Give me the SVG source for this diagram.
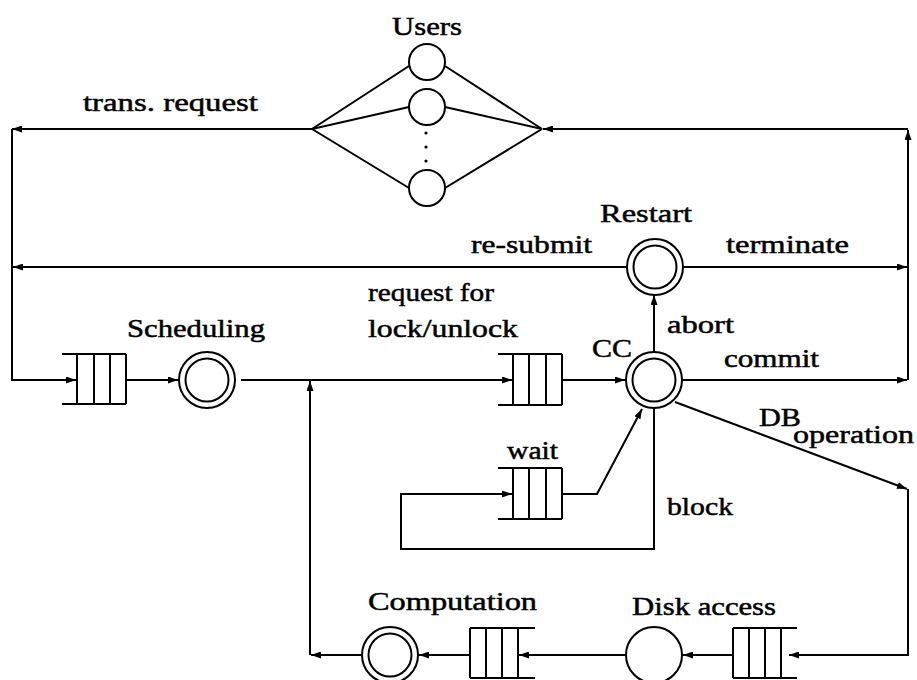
<svg xmlns="http://www.w3.org/2000/svg" width="917" height="680" viewBox="0 0 917 680">
<style>
.ln{fill:none;stroke:#000;stroke-width:2}
.c{fill:#fff;stroke:#000;stroke-width:2}
.t{font-family:"Liberation Serif","DejaVu Serif",serif;font-size:26px;fill:#000;stroke:#000;stroke-width:0.5}
</style>
<defs>
<marker id="ah" markerUnits="userSpaceOnUse" markerWidth="10" markerHeight="7" refX="10" refY="3.5" orient="auto">
<path d="M0,0 L10,3.5 L0,7 z" fill="#000"/>
</marker>
</defs>
<rect width="917" height="680" fill="#fff"/>

<g id="connectors" class="ln">
<path d="M312,129 L409,66"/>
<path d="M312,129 L409,107"/>
<path d="M312,129 L409,188"/>
<path d="M542,129 L445,66"/>
<path d="M542,129 L445,107"/>
<path d="M542,129 L445,188"/>
<path d="M312,129 H12" marker-end="url(#ah)"/>
<path d="M12,129 V380 H76" marker-end="url(#ah)"/>
<path d="M627,267 H13" marker-end="url(#ah)"/>
<path d="M683,267 H907" marker-end="url(#ah)"/>
<path d="M908,380 V130" marker-end="url(#ah)"/>
<path d="M908,129 H543" marker-end="url(#ah)"/>
<path d="M682,380 H907" marker-end="url(#ah)"/>
<path d="M654,352 V295" marker-end="url(#ah)"/>
<path d="M126,380 H178" marker-end="url(#ah)"/>
<path d="M241,380 H512" marker-end="url(#ah)"/>
<path d="M562,380 H625" marker-end="url(#ah)"/>
<path d="M310,655 V381" marker-end="url(#ah)"/>
<path d="M361,655 H311" marker-end="url(#ah)"/>
<path d="M675,402 L907,489" marker-end="url(#ah)"/>
<path d="M908,489 V655 H789" marker-end="url(#ah)"/>
<path d="M733,655 H683" marker-end="url(#ah)"/>
<path d="M626,655 H519" marker-end="url(#ah)"/>
<path d="M470,655 H419" marker-end="url(#ah)"/>
<path d="M654,408 V549 H401 V494 H512" marker-end="url(#ah)"/>
<path d="M562,494 H597 L642,409" marker-end="url(#ah)"/>
</g>

<g id="users">
<circle class="c" cx="427" cy="62" r="18"/>
<circle class="c" cx="427" cy="107" r="18"/>
<circle class="c" cx="427" cy="188" r="18"/>
<circle cx="426" cy="133" r="1.6"/>
<circle cx="426" cy="147" r="1.6"/>
<circle cx="426" cy="161" r="1.6"/>
<text class="t" x="392" y="35" textLength="70" lengthAdjust="spacingAndGlyphs">Users</text>
</g>

<g id="label-trans"><text class="t" x="83" y="111" textLength="175" lengthAdjust="spacingAndGlyphs">trans. request</text></g>

<g id="restart">
<circle class="c" cx="655" cy="267" r="28"/>
<circle class="c" cx="655" cy="267" r="21.5"/>
<text class="t" x="600" y="222" textLength="92" lengthAdjust="spacingAndGlyphs">Restart</text>
</g>
<g id="labels-restart">
<text class="t" x="471" y="253" textLength="121" lengthAdjust="spacingAndGlyphs">re-submit</text>
<text class="t" x="726" y="253" textLength="123" lengthAdjust="spacingAndGlyphs">terminate</text>
</g>

<g id="sched-queue" class="ln">
<path d="M62,354 H126 M62,404 H126 M77,354 V404 M94,354 V404 M110,354 V404 M126,354 V404"/>
</g>
<g id="scheduling">
<circle class="c" cx="207" cy="380" r="28"/>
<circle class="c" cx="207" cy="380" r="21.5"/>
<text class="t" x="127" y="337" textLength="138" lengthAdjust="spacingAndGlyphs">Scheduling</text>
</g>

<g id="lock-queue">
<path class="ln" d="M498,354 H562 M498,405 H562 M513,354 V405 M529,354 V405 M546,354 V405 M562,354 V405"/>
<text class="t" x="368" y="301" textLength="126" lengthAdjust="spacingAndGlyphs">request for</text>
<text class="t" x="368" y="337" textLength="150" lengthAdjust="spacingAndGlyphs">lock/unlock</text>
</g>

<g id="cc">
<circle class="c" cx="654" cy="380" r="28"/>
<circle class="c" cx="654" cy="380" r="21.5"/>
<text class="t" x="592" y="357" textLength="40" lengthAdjust="spacingAndGlyphs">CC</text>
</g>
<g id="labels-cc">
<text class="t" x="667" y="333" textLength="67" lengthAdjust="spacingAndGlyphs">abort</text>
<text class="t" x="724" y="367" textLength="95" lengthAdjust="spacingAndGlyphs">commit</text>
<text class="t" x="759" y="426" textLength="42" lengthAdjust="spacingAndGlyphs">DB</text>
<text class="t" x="793" y="443" textLength="121" lengthAdjust="spacingAndGlyphs">operation</text>
<text class="t" x="667" y="515" textLength="66" lengthAdjust="spacingAndGlyphs">block</text>
</g>

<g id="wait-queue">
<path class="ln" d="M498,468 H562 M498,519 H562 M513,468 V519 M529,468 V519 M546,468 V519 M562,468 V519"/>
<text class="t" x="507" y="459" textLength="51" lengthAdjust="spacingAndGlyphs">wait</text>
</g>

<g id="disk-queue" class="ln">
<path d="M733,628 H797 M733,678 H797 M733,628 V678 M749,628 V678 M765,628 V678 M781,628 V678"/>
</g>
<g id="disk">
<circle class="c" cx="654" cy="655" r="28"/>
<text class="t" x="632" y="615" textLength="144" lengthAdjust="spacingAndGlyphs">Disk access</text>
</g>

<g id="comp-queue" class="ln">
<path d="M470,628 H535 M470,678 H535 M470,628 V678 M486,628 V678 M502,628 V678 M518,628 V678"/>
</g>
<g id="computation">
<circle class="c" cx="390" cy="655" r="28"/>
<circle class="c" cx="390" cy="655" r="21.5"/>
<text class="t" x="368" y="610" textLength="169" lengthAdjust="spacingAndGlyphs">Computation</text>
</g>
</svg>
